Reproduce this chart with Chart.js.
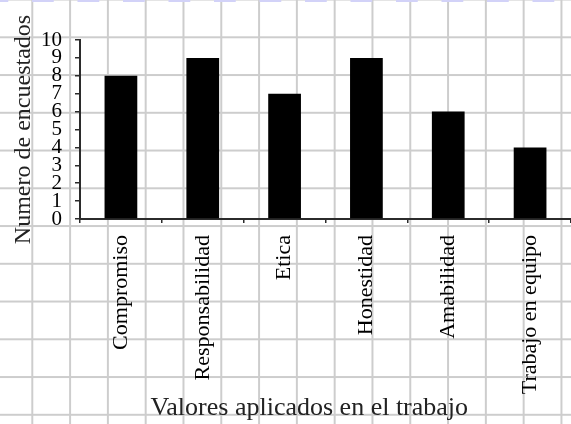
<!DOCTYPE html>
<html>
<head>
<meta charset="utf-8">
<script src="https://cdn.jsdelivr.net/npm/chart.js@4"></script>
<style>
  html, body { margin: 0; padding: 0; background: #fff; }
  #wrap {
    position: relative;
    width: 571px;
    height: 424px;
    background-color: #fff;
    background-image:
      linear-gradient(to right, #d2d2f8 22px, transparent 22px),
      linear-gradient(to right, #cdcdcd 2px, transparent 2px),
      linear-gradient(to bottom, #cdcdcd 2px, transparent 2px);
    background-size: 45.5px 2px, 37.8px 37.8px, 37.8px 37.75px;
    background-repeat: repeat-x, repeat, repeat;
    background-position: 32px 0, 31.3px 0, 0 36.3px;
  }
  canvas { position: absolute; left: 0; top: 0; }
</style>
</head>
<body>
<div id="wrap">
  <canvas id="chart" width="571" height="424"></canvas>
</div>
<script>
const categories = ['Compromiso', 'Responsabilidad', 'Etica', 'Honestidad', 'Amabilidad', 'Trabajo en equipo'];
const respondents = [8, 9, 7, 9, 6, 4];
const yTicks = [0, 1, 2, 3, 4, 5, 6, 7, 8, 9, 10];

const serif = "'Liberation Serif', 'DejaVu Serif', serif";
const axisColor = '#2b2b2b';

const ctx = document.getElementById('chart').getContext('2d');

new Chart(ctx, {
    type: 'bar',
    data: {
        labels: categories,
        datasets: [{
            data: respondents,
            backgroundColor: '#000',
            borderWidth: 0,
            categoryPercentage: 0.8,
            barPercentage: 0.5
        }]
    },
    options: {
        responsive: false,
        animation: false,
        layout: { padding: { top: 40, right: 0, bottom: 0, left: 0 } },
        plugins: {
            legend: { display: false },
            tooltip: { enabled: false }
        },
        scales: {
            x: {
                offset: true,
                grid: { drawOnChartArea: false, tickLength: 4, color: axisColor, lineWidth: 1.5 },
                border: { color: axisColor, width: 2 },
                ticks: {
                    minRotation: 90,
                    maxRotation: 90,
                    autoSkip: false,
                    padding: 12,
                    color: '#000',
                    font: { family: serif, size: 22 }
                },
                title: {
                    display: true,
                    // trailing spaces pull the centred title a bit to the left, like the original
                    text: 'Valores aplicados en el trabajo     ',
                    color: '#222',
                    font: { family: serif, size: 26 },
                    padding: { top: 0, bottom: 0 }
                },
                afterFit: function (scale) { scale.height = 205; }
            },
            y: {
                min: 0,
                max: 10,
                afterBuildTicks: function (scale) {
                    scale.ticks = yTicks.map(v => ({ value: v }));
                },
                grid: { drawOnChartArea: false, tickLength: 5, color: axisColor, lineWidth: 1.5 },
                border: { color: axisColor, width: 2 },
                ticks: {
                    autoSkip: false,
                    padding: 13,
                    color: '#000',
                    font: { family: serif, size: 21 }
                },
                title: {
                    display: true,
                    text: 'Numero de encuestados',
                    color: '#222',
                    font: { family: serif, size: 24 },
                    padding: { top: 9, bottom: 0 }
                },
                afterFit: function (scale) { scale.width = 80; }
            }
        }
    }
});
</script>
</body>
</html>
